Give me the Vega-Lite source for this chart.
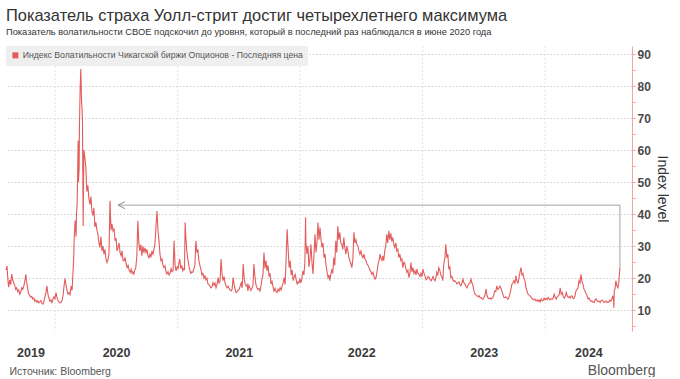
{
"$schema": "https://vega.github.io/schema/vega-lite/v6.json",
"width": 626, "height": 285,
"padding": {"left": 3, "top": 7, "right": 0, "bottom": 0},
"background": "white",
"title": {"text": "Показатель страха Уолл-стрит достиг четырехлетнего максимума", "subtitle": "Показатель волатильности CBOE подскочил до уровня, который в последний раз наблюдался в июне 2020 года", "anchor": "start", "frame": "group", "font": "Liberation Sans", "fontSize": 16.4, "fontWeight": "normal", "color": "#333333", "subtitleFont": "Liberation Sans", "subtitleFontSize": 9.3, "subtitleColor": "#333333", "subtitlePadding": 4, "offset": 8},
"datasets": {
"years": [{"d":"2020-01-01"},{"d":"2021-01-01"},{"d":"2022-01-01"},{"d":"2023-01-01"},{"d":"2024-01-01"}],
"ann": [{"d":"2020-07-07","v":42.8,"o":1},{"d":"2024-08-11","v":42.8,"o":2},{"d":"2024-08-11","v":23.3,"o":3}],
"tip": [{"d":"2020-07-07","v":42.8}],
"vix": [
{"d":"2019-08-08","v":22.5},{"d":"2019-08-11","v":23.8},{"d":"2019-08-14","v":19},{"d":"2019-08-16","v":17.2},{"d":"2019-08-19","v":19.5},{"d":"2019-08-22","v":18},{"d":"2019-08-25","v":21.3},{"d":"2019-08-28","v":19.5},{"d":"2019-08-31","v":18.5},{"d":"2019-09-03","v":17.8},{"d":"2019-09-06","v":16.5},{"d":"2019-09-09","v":17},{"d":"2019-09-12","v":15.8},{"d":"2019-09-15","v":16.3},{"d":"2019-09-18","v":15},{"d":"2019-09-21","v":15.6},{"d":"2019-09-24","v":17},{"d":"2019-09-27","v":16.5},{"d":"2019-09-30","v":17.5},{"d":"2019-10-03","v":19},{"d":"2019-10-06","v":21.2},{"d":"2019-10-09","v":18.5},{"d":"2019-10-12","v":16.5},{"d":"2019-10-15","v":15},{"d":"2019-10-18","v":14.6},{"d":"2019-10-21","v":14},{"d":"2019-10-24","v":14.3},{"d":"2019-10-27","v":13.5},{"d":"2019-10-30","v":13.8},{"d":"2019-11-02","v":12.8},{"d":"2019-11-05","v":13.2},{"d":"2019-11-08","v":12.5},{"d":"2019-11-11","v":12.9},{"d":"2019-11-14","v":12.3},{"d":"2019-11-17","v":12.6},{"d":"2019-11-20","v":13},{"d":"2019-11-23","v":12.2},{"d":"2019-11-26","v":11.9},{"d":"2019-11-29","v":12.6},{"d":"2019-12-02","v":14.2},{"d":"2019-12-05","v":15.5},{"d":"2019-12-08","v":17.6},{"d":"2019-12-11","v":15},{"d":"2019-12-14","v":13.8},{"d":"2019-12-17","v":12.8},{"d":"2019-12-20","v":13.2},{"d":"2019-12-23","v":12.4},{"d":"2019-12-26","v":13.4},{"d":"2019-12-29","v":14.2},
{"d":"2020-01-01","v":13.6},{"d":"2020-01-04","v":15.5},{"d":"2020-01-07","v":14},{"d":"2020-01-10","v":13},{"d":"2020-01-13","v":12.6},{"d":"2020-01-16","v":12.3},{"d":"2020-01-19","v":12.4},{"d":"2020-01-22","v":13},{"d":"2020-01-25","v":14.5},{"d":"2020-01-28","v":17.5},{"d":"2020-01-31","v":19.9},{"d":"2020-02-03","v":17.8},{"d":"2020-02-06","v":16},{"d":"2020-02-09","v":15},{"d":"2020-02-12","v":15.5},{"d":"2020-02-15","v":14.8},{"d":"2020-02-18","v":17.5},{"d":"2020-02-21","v":16.2},{"d":"2020-02-24","v":22.3},{"d":"2020-02-26","v":27},{"d":"2020-02-27","v":31.7},{"d":"2020-03-01","v":38},{"d":"2020-03-04","v":33},{"d":"2020-03-05","v":40},{"d":"2020-03-07","v":43},{"d":"2020-03-09","v":55},{"d":"2020-03-10","v":63},{"d":"2020-03-11","v":50},{"d":"2020-03-13","v":54.6},{"d":"2020-03-14","v":68},{"d":"2020-03-16","v":79},{"d":"2020-03-18","v":85.3},{"d":"2020-03-20","v":76},{"d":"2020-03-22","v":72},{"d":"2020-03-23","v":69},{"d":"2020-03-25","v":36.3},{"d":"2020-03-27","v":60},{"d":"2020-03-30","v":57.7},{"d":"2020-04-02","v":54.6},{"d":"2020-04-05","v":47},{"d":"2020-04-08","v":49},{"d":"2020-04-11","v":45},{"d":"2020-04-14","v":43},{"d":"2020-04-17","v":45.5},{"d":"2020-04-20","v":41},{"d":"2020-04-23","v":39.5},{"d":"2020-04-26","v":42},{"d":"2020-04-29","v":36},{"d":"2020-05-02","v":37.4},{"d":"2020-05-05","v":35},{"d":"2020-05-08","v":33.8},{"d":"2020-05-11","v":31},{"d":"2020-05-14","v":29.6},{"d":"2020-05-17","v":33},{"d":"2020-05-20","v":28.5},{"d":"2020-05-23","v":30},{"d":"2020-05-26","v":27.5},{"d":"2020-05-29","v":29},{"d":"2020-06-01","v":26},{"d":"2020-06-04","v":24.9},{"d":"2020-06-07","v":25.8},{"d":"2020-06-10","v":27.6},{"d":"2020-06-13","v":44.2},{"d":"2020-06-16","v":35},{"d":"2020-06-19","v":37},{"d":"2020-06-22","v":34.8},{"d":"2020-06-25","v":35.5},{"d":"2020-06-28","v":31.7},{"d":"2020-07-01","v":32.5},{"d":"2020-07-04","v":28.5},{"d":"2020-07-07","v":29.6},{"d":"2020-07-10","v":31},{"d":"2020-07-13","v":28},{"d":"2020-07-16","v":27},{"d":"2020-07-19","v":28.5},{"d":"2020-07-22","v":25.5},{"d":"2020-07-25","v":25.4},{"d":"2020-07-28","v":26.5},{"d":"2020-07-31","v":24.5},{"d":"2020-08-03","v":23.3},{"d":"2020-08-06","v":24},{"d":"2020-08-09","v":22.5},{"d":"2020-08-12","v":21.8},{"d":"2020-08-15","v":22.8},{"d":"2020-08-18","v":21.5},{"d":"2020-08-20","v":22},{"d":"2020-08-23","v":21.3},{"d":"2020-08-26","v":22.5},{"d":"2020-08-29","v":23.3},{"d":"2020-09-01","v":27},{"d":"2020-09-04","v":37.9},{"d":"2020-09-07","v":31},{"d":"2020-09-10","v":28.5},{"d":"2020-09-13","v":30.5},{"d":"2020-09-16","v":27},{"d":"2020-09-19","v":30},{"d":"2020-09-22","v":28},{"d":"2020-09-25","v":29.5},{"d":"2020-09-28","v":28},{"d":"2020-10-01","v":29},{"d":"2020-10-04","v":27},{"d":"2020-10-07","v":26.4},{"d":"2020-10-10","v":27.5},{"d":"2020-10-13","v":26.5},{"d":"2020-10-16","v":28.5},{"d":"2020-10-19","v":27.5},{"d":"2020-10-22","v":29},{"d":"2020-10-25","v":30.7},{"d":"2020-10-28","v":36},{"d":"2020-10-31","v":41},{"d":"2020-11-03","v":35},{"d":"2020-11-06","v":31.7},{"d":"2020-11-09","v":27.5},{"d":"2020-11-12","v":25.4},{"d":"2020-11-15","v":26},{"d":"2020-11-18","v":24},{"d":"2020-11-21","v":23.3},{"d":"2020-11-24","v":23.8},{"d":"2020-11-27","v":22},{"d":"2020-11-30","v":21.3},{"d":"2020-12-03","v":22},{"d":"2020-12-06","v":21},{"d":"2020-12-09","v":21.5},{"d":"2020-12-12","v":23},{"d":"2020-12-15","v":22},{"d":"2020-12-18","v":22.3},{"d":"2020-12-21","v":31.7},{"d":"2020-12-24","v":24},{"d":"2020-12-27","v":22.3},{"d":"2020-12-30","v":23.5},
{"d":"2021-01-02","v":23},{"d":"2021-01-04","v":24.4},{"d":"2021-01-07","v":26},{"d":"2021-01-10","v":23},{"d":"2021-01-13","v":24},{"d":"2021-01-16","v":22.3},{"d":"2021-01-19","v":23},{"d":"2021-01-21","v":22.5},{"d":"2021-01-23","v":37.4},{"d":"2021-01-25","v":33},{"d":"2021-01-28","v":28.5},{"d":"2021-01-31","v":26},{"d":"2021-02-03","v":24},{"d":"2021-02-06","v":22.5},{"d":"2021-02-09","v":21.5},{"d":"2021-02-12","v":22},{"d":"2021-02-15","v":21.8},{"d":"2021-02-18","v":23},{"d":"2021-02-21","v":24},{"d":"2021-02-24","v":31.7},{"d":"2021-02-27","v":28},{"d":"2021-03-02","v":29},{"d":"2021-03-05","v":25.4},{"d":"2021-03-08","v":24},{"d":"2021-03-11","v":22.8},{"d":"2021-03-14","v":21},{"d":"2021-03-17","v":21.5},{"d":"2021-03-20","v":20},{"d":"2021-03-23","v":20.7},{"d":"2021-03-26","v":19.5},{"d":"2021-03-29","v":20},{"d":"2021-04-01","v":18.2},{"d":"2021-04-04","v":18},{"d":"2021-04-07","v":17.5},{"d":"2021-04-10","v":17},{"d":"2021-04-13","v":17.3},{"d":"2021-04-16","v":18.6},{"d":"2021-04-19","v":17.8},{"d":"2021-04-22","v":18.5},{"d":"2021-04-25","v":17},{"d":"2021-04-28","v":18},{"d":"2021-05-01","v":20.2},{"d":"2021-05-04","v":18.5},{"d":"2021-05-07","v":19},{"d":"2021-05-10","v":26},{"d":"2021-05-13","v":21.5},{"d":"2021-05-16","v":19.2},{"d":"2021-05-19","v":20.5},{"d":"2021-05-22","v":18.5},{"d":"2021-05-25","v":17.5},{"d":"2021-05-28","v":17},{"d":"2021-05-31","v":17.5},{"d":"2021-06-03","v":16.8},{"d":"2021-06-06","v":16.3},{"d":"2021-06-09","v":16},{"d":"2021-06-12","v":16.5},{"d":"2021-06-15","v":20.2},{"d":"2021-06-18","v":18},{"d":"2021-06-21","v":16.5},{"d":"2021-06-24","v":15.5},{"d":"2021-06-27","v":15.8},{"d":"2021-06-30","v":16.2},{"d":"2021-07-03","v":16.5},{"d":"2021-07-06","v":17.5},{"d":"2021-07-09","v":18.5},{"d":"2021-07-12","v":17},{"d":"2021-07-15","v":24.4},{"d":"2021-07-18","v":20},{"d":"2021-07-21","v":18.2},{"d":"2021-07-24","v":17.5},{"d":"2021-07-27","v":18},{"d":"2021-07-29","v":16},{"d":"2021-08-01","v":17.8},{"d":"2021-08-04","v":17},{"d":"2021-08-07","v":16.2},{"d":"2021-08-10","v":16.8},{"d":"2021-08-13","v":17.5},{"d":"2021-08-16","v":24.4},{"d":"2021-08-19","v":20.5},{"d":"2021-08-22","v":18},{"d":"2021-08-25","v":17},{"d":"2021-08-28","v":16.5},{"d":"2021-08-31","v":16.8},{"d":"2021-09-03","v":16},{"d":"2021-09-06","v":17.5},{"d":"2021-09-09","v":19.5},{"d":"2021-09-12","v":21},{"d":"2021-09-15","v":28},{"d":"2021-09-18","v":23},{"d":"2021-09-21","v":25.5},{"d":"2021-09-24","v":22.3},{"d":"2021-09-27","v":24},{"d":"2021-09-30","v":20.5},{"d":"2021-10-03","v":21.5},{"d":"2021-10-06","v":18.2},{"d":"2021-10-09","v":19},{"d":"2021-10-12","v":17.3},{"d":"2021-10-15","v":16},{"d":"2021-10-18","v":16.8},{"d":"2021-10-21","v":15.8},{"d":"2021-10-24","v":15.5},{"d":"2021-10-27","v":16.5},{"d":"2021-10-30","v":16},{"d":"2021-11-02","v":17},{"d":"2021-11-05","v":16.3},{"d":"2021-11-08","v":17.5},{"d":"2021-11-11","v":18.5},{"d":"2021-11-14","v":20.2},{"d":"2021-11-17","v":18},{"d":"2021-11-20","v":26.4},{"d":"2021-11-23","v":35.3},{"d":"2021-11-26","v":29},{"d":"2021-11-29","v":23.3},{"d":"2021-12-02","v":25.5},{"d":"2021-12-05","v":21},{"d":"2021-12-08","v":22.5},{"d":"2021-12-11","v":19.2},{"d":"2021-12-14","v":20.5},{"d":"2021-12-17","v":21.2},{"d":"2021-12-20","v":19.5},{"d":"2021-12-23","v":18.2},{"d":"2021-12-25","v":18.8},{"d":"2021-12-28","v":18.5},{"d":"2021-12-31","v":19.7},
{"d":"2022-01-03","v":18.5},{"d":"2022-01-06","v":20},{"d":"2022-01-09","v":22.3},{"d":"2022-01-12","v":21},{"d":"2022-01-15","v":25},{"d":"2022-01-17","v":39},{"d":"2022-01-18","v":31},{"d":"2022-01-21","v":27.6},{"d":"2022-01-24","v":30},{"d":"2022-01-27","v":23.5},{"d":"2022-01-30","v":26},{"d":"2022-02-02","v":30.6},{"d":"2022-02-05","v":25},{"d":"2022-02-08","v":21.3},{"d":"2022-02-11","v":27},{"d":"2022-02-14","v":33.7},{"d":"2022-02-17","v":28},{"d":"2022-02-20","v":31},{"d":"2022-02-23","v":37.4},{"d":"2022-02-26","v":32},{"d":"2022-03-01","v":35.8},{"d":"2022-03-04","v":32},{"d":"2022-03-07","v":29.6},{"d":"2022-03-10","v":31},{"d":"2022-03-13","v":26.4},{"d":"2022-03-16","v":27.5},{"d":"2022-03-19","v":24},{"d":"2022-03-22","v":22},{"d":"2022-03-25","v":20.2},{"d":"2022-03-28","v":21},{"d":"2022-03-30","v":19.2},{"d":"2022-04-02","v":21},{"d":"2022-04-05","v":22.5},{"d":"2022-04-08","v":21.5},{"d":"2022-04-11","v":26.4},{"d":"2022-04-14","v":24},{"d":"2022-04-17","v":31.7},{"d":"2022-04-20","v":28},{"d":"2022-04-23","v":36.3},{"d":"2022-04-26","v":32},{"d":"2022-04-29","v":34.3},{"d":"2022-05-02","v":31},{"d":"2022-05-05","v":30.6},{"d":"2022-05-08","v":29},{"d":"2022-05-11","v":32.7},{"d":"2022-05-14","v":29.5},{"d":"2022-05-17","v":27.5},{"d":"2022-05-20","v":30},{"d":"2022-05-23","v":28.5},{"d":"2022-05-26","v":26.5},{"d":"2022-05-29","v":25.4},{"d":"2022-06-01","v":24.5},{"d":"2022-06-04","v":23.3},{"d":"2022-06-07","v":26},{"d":"2022-06-10","v":34.3},{"d":"2022-06-13","v":31},{"d":"2022-06-16","v":32},{"d":"2022-06-19","v":30.5},{"d":"2022-06-22","v":30},{"d":"2022-06-25","v":28.5},{"d":"2022-06-28","v":27.5},{"d":"2022-07-01","v":28.5},{"d":"2022-07-04","v":27},{"d":"2022-07-07","v":26.4},{"d":"2022-07-10","v":27.5},{"d":"2022-07-13","v":26},{"d":"2022-07-16","v":25.5},{"d":"2022-07-19","v":24.5},{"d":"2022-07-22","v":24},{"d":"2022-07-25","v":23.3},{"d":"2022-07-28","v":22.5},{"d":"2022-07-31","v":22},{"d":"2022-08-03","v":21.2},{"d":"2022-08-06","v":21.8},{"d":"2022-08-09","v":20.5},{"d":"2022-08-12","v":19.7},{"d":"2022-08-15","v":20.3},{"d":"2022-08-18","v":22},{"d":"2022-08-21","v":24.4},{"d":"2022-08-24","v":25.5},{"d":"2022-08-27","v":27.5},{"d":"2022-08-30","v":26},{"d":"2022-09-02","v":25.5},{"d":"2022-09-04","v":27},{"d":"2022-09-07","v":25.5},{"d":"2022-09-10","v":28.5},{"d":"2022-09-13","v":30},{"d":"2022-09-16","v":33.7},{"d":"2022-09-19","v":31},{"d":"2022-09-22","v":34.8},{"d":"2022-09-25","v":32},{"d":"2022-09-28","v":34},{"d":"2022-10-01","v":31.5},{"d":"2022-10-04","v":32.7},{"d":"2022-10-07","v":30.5},{"d":"2022-10-10","v":29.6},{"d":"2022-10-13","v":31},{"d":"2022-10-16","v":28.5},{"d":"2022-10-19","v":29},{"d":"2022-10-22","v":26.4},{"d":"2022-10-25","v":27.5},{"d":"2022-10-28","v":25.5},{"d":"2022-10-31","v":26},{"d":"2022-11-03","v":23.3},{"d":"2022-11-06","v":25},{"d":"2022-11-09","v":24.5},{"d":"2022-11-12","v":23},{"d":"2022-11-15","v":21.8},{"d":"2022-11-18","v":22.5},{"d":"2022-11-21","v":20.2},{"d":"2022-11-24","v":21.5},{"d":"2022-11-27","v":24.9},{"d":"2022-11-30","v":22},{"d":"2022-12-03","v":23.3},{"d":"2022-12-06","v":21.5},{"d":"2022-12-09","v":22.3},{"d":"2022-12-12","v":21},{"d":"2022-12-15","v":22.8},{"d":"2022-12-18","v":21.5},{"d":"2022-12-21","v":21.2},{"d":"2022-12-24","v":20.5},{"d":"2022-12-27","v":21.5},{"d":"2022-12-30","v":20.5},
{"d":"2023-01-02","v":22.8},{"d":"2023-01-05","v":21.5},{"d":"2023-01-08","v":20.7},{"d":"2023-01-11","v":19.5},{"d":"2023-01-14","v":19.8},{"d":"2023-01-17","v":20.5},{"d":"2023-01-20","v":20.3},{"d":"2023-01-23","v":19.5},{"d":"2023-01-26","v":19.2},{"d":"2023-01-29","v":19.8},{"d":"2023-02-01","v":20.5},{"d":"2023-02-04","v":19.5},{"d":"2023-02-07","v":19.2},{"d":"2023-02-10","v":20.5},{"d":"2023-02-12","v":21.8},{"d":"2023-02-15","v":21},{"d":"2023-02-18","v":23.3},{"d":"2023-02-21","v":22.5},{"d":"2023-02-24","v":21},{"d":"2023-02-27","v":20.5},{"d":"2023-03-02","v":19.2},{"d":"2023-03-05","v":24.4},{"d":"2023-03-08","v":26},{"d":"2023-03-11","v":30.6},{"d":"2023-03-14","v":26.4},{"d":"2023-03-17","v":27.5},{"d":"2023-03-20","v":22.8},{"d":"2023-03-23","v":23.5},{"d":"2023-03-26","v":20.2},{"d":"2023-03-29","v":20.5},{"d":"2023-04-01","v":19.5},{"d":"2023-04-04","v":19},{"d":"2023-04-07","v":19.2},{"d":"2023-04-10","v":18.8},{"d":"2023-04-13","v":18.2},{"d":"2023-04-16","v":18.5},{"d":"2023-04-19","v":18.8},{"d":"2023-04-22","v":18},{"d":"2023-04-25","v":17.6},{"d":"2023-04-28","v":18.5},{"d":"2023-05-01","v":19.7},{"d":"2023-05-04","v":18.5},{"d":"2023-05-07","v":18.2},{"d":"2023-05-10","v":17.5},{"d":"2023-05-13","v":17},{"d":"2023-05-16","v":17.8},{"d":"2023-05-19","v":18.2},{"d":"2023-05-22","v":18.5},{"d":"2023-05-25","v":19.7},{"d":"2023-05-28","v":18.5},{"d":"2023-05-31","v":17.6},{"d":"2023-06-03","v":16},{"d":"2023-06-06","v":15},{"d":"2023-06-09","v":14.8},{"d":"2023-06-12","v":14.5},{"d":"2023-06-15","v":14.2},{"d":"2023-06-18","v":14.5},{"d":"2023-06-21","v":13.9},{"d":"2023-06-24","v":14},{"d":"2023-06-27","v":13.6},{"d":"2023-06-30","v":13.4},{"d":"2023-07-03","v":14},{"d":"2023-07-06","v":14.8},{"d":"2023-07-09","v":16.6},{"d":"2023-07-12","v":14.5},{"d":"2023-07-15","v":13.8},{"d":"2023-07-18","v":13.6},{"d":"2023-07-21","v":13.8},{"d":"2023-07-24","v":13.4},{"d":"2023-07-26","v":13.8},{"d":"2023-07-29","v":13.8},{"d":"2023-08-01","v":14.8},{"d":"2023-08-04","v":16},{"d":"2023-08-07","v":15.8},{"d":"2023-08-10","v":17.6},{"d":"2023-08-13","v":16.5},{"d":"2023-08-16","v":16.8},{"d":"2023-08-19","v":17.5},{"d":"2023-08-22","v":17},{"d":"2023-08-25","v":16},{"d":"2023-08-28","v":15},{"d":"2023-08-31","v":14},{"d":"2023-09-03","v":13.9},{"d":"2023-09-06","v":14.2},{"d":"2023-09-09","v":13.8},{"d":"2023-09-12","v":13.4},{"d":"2023-09-15","v":14},{"d":"2023-09-18","v":15},{"d":"2023-09-21","v":16.5},{"d":"2023-09-24","v":18.1},{"d":"2023-09-27","v":18.5},{"d":"2023-09-30","v":19.2},{"d":"2023-10-03","v":18.5},{"d":"2023-10-06","v":20.7},{"d":"2023-10-09","v":19},{"d":"2023-10-12","v":18.5},{"d":"2023-10-15","v":20},{"d":"2023-10-18","v":21.8},{"d":"2023-10-21","v":23.3},{"d":"2023-10-24","v":21},{"d":"2023-10-27","v":21.5},{"d":"2023-10-30","v":20},{"d":"2023-11-02","v":19.2},{"d":"2023-11-05","v":17},{"d":"2023-11-08","v":16},{"d":"2023-11-11","v":15},{"d":"2023-11-14","v":14.8},{"d":"2023-11-17","v":14.5},{"d":"2023-11-20","v":14},{"d":"2023-11-23","v":13.6},{"d":"2023-11-26","v":13.4},{"d":"2023-11-29","v":13.2},{"d":"2023-12-02","v":13.4},{"d":"2023-12-05","v":12.9},{"d":"2023-12-08","v":13.2},{"d":"2023-12-11","v":12.7},{"d":"2023-12-14","v":13.2},{"d":"2023-12-17","v":12.6},{"d":"2023-12-20","v":13.5},{"d":"2023-12-23","v":12.9},{"d":"2023-12-26","v":13},{"d":"2023-12-29","v":13.8},
{"d":"2024-01-01","v":13.2},{"d":"2024-01-04","v":13.7},{"d":"2024-01-07","v":13.3},{"d":"2024-01-10","v":14},{"d":"2024-01-13","v":13.5},{"d":"2024-01-16","v":13.2},{"d":"2024-01-19","v":13.6},{"d":"2024-01-22","v":13.4},{"d":"2024-01-25","v":13.8},{"d":"2024-01-28","v":15},{"d":"2024-01-31","v":14},{"d":"2024-02-03","v":13.5},{"d":"2024-02-06","v":14.2},{"d":"2024-02-09","v":14.5},{"d":"2024-02-12","v":14.8},{"d":"2024-02-15","v":17},{"d":"2024-02-18","v":15},{"d":"2024-02-21","v":15.5},{"d":"2024-02-24","v":14.2},{"d":"2024-02-27","v":13.8},{"d":"2024-03-01","v":14.3},{"d":"2024-03-04","v":15.5},{"d":"2024-03-07","v":14.5},{"d":"2024-03-10","v":14},{"d":"2024-03-13","v":14.2},{"d":"2024-03-16","v":13.8},{"d":"2024-03-19","v":14.5},{"d":"2024-03-22","v":14.3},{"d":"2024-03-24","v":13.7},{"d":"2024-03-27","v":13.6},{"d":"2024-03-30","v":14.5},{"d":"2024-04-02","v":16},{"d":"2024-04-05","v":16.5},{"d":"2024-04-08","v":17},{"d":"2024-04-11","v":19.2},{"d":"2024-04-14","v":18.5},{"d":"2024-04-17","v":21.2},{"d":"2024-04-20","v":19},{"d":"2024-04-23","v":18},{"d":"2024-04-26","v":16.5},{"d":"2024-04-29","v":16},{"d":"2024-05-02","v":15.2},{"d":"2024-05-05","v":14.5},{"d":"2024-05-08","v":13.5},{"d":"2024-05-11","v":13.8},{"d":"2024-05-14","v":13.2},{"d":"2024-05-17","v":12.7},{"d":"2024-05-20","v":12.9},{"d":"2024-05-23","v":12.5},{"d":"2024-05-26","v":12.4},{"d":"2024-05-29","v":13.2},{"d":"2024-06-01","v":13.5},{"d":"2024-06-04","v":13},{"d":"2024-06-07","v":12.7},{"d":"2024-06-10","v":12.8},{"d":"2024-06-13","v":12.4},{"d":"2024-06-16","v":13},{"d":"2024-06-19","v":13.2},{"d":"2024-06-22","v":12.8},{"d":"2024-06-25","v":12.4},{"d":"2024-06-27","v":12.7},{"d":"2024-06-30","v":12.9},{"d":"2024-07-03","v":12.4},{"d":"2024-07-06","v":12.6},{"d":"2024-07-09","v":12.5},{"d":"2024-07-12","v":13.2},{"d":"2024-07-15","v":12.8},{"d":"2024-07-18","v":13.5},{"d":"2024-07-21","v":14.5},{"d":"2024-07-23","v":13},{"d":"2024-07-24","v":10.8},{"d":"2024-07-25","v":16},{"d":"2024-07-27","v":16.5},{"d":"2024-07-30","v":19.2},{"d":"2024-08-02","v":17.6},{"d":"2024-08-05","v":17},{"d":"2024-08-08","v":19},{"d":"2024-08-11","v":23.3}
]},
"layer": [
{"data": {"name": "years"}, "mark": {"type": "rule", "color": "#e2e2e2", "strokeWidth": 1, "strokeDash": [2, 2]},
 "encoding": {"x": {"field": "d", "type": "temporal", "scale": {"type": "utc", "domain": [{"year": 2019, "month": 8, "date": 8, "utc": true}, {"year": 2024, "month": 9, "date": 16, "utc": true}]},
  "axis": {"orient": "bottom", "title": "Bloomberg", "labels": false, "ticks": false, "domain": false, "grid": false, "titleFont": "Liberation Sans", "titleFontSize": 14, "titleFontWeight": "normal", "titleColor": "#555555", "titleX": 649, "titleY": 43, "titleAlign": "right", "titleBaseline": "alphabetic", "titleAngle": 0}}}},
{"data": {"name": "vix"}, "mark": {"type": "line", "strokeWidth": 1.1, "interpolate": "linear"},
 "encoding": {
  "x": {"field": "d", "type": "temporal", "scale": {"type": "utc", "domain": [{"year": 2019, "month": 8, "date": 8, "utc": true}, {"year": 2024, "month": 9, "date": 16, "utc": true}]},
   "axis": {"orient": "bottom", "grid": false, "ticks": false, "domain": false, "values": [{"year": 2019, "month": 10, "date": 20, "utc": true}, {"year": 2020, "month": 7, "date": 1, "utc": true}, {"year": 2021, "month": 7, "date": 2, "utc": true}, {"year": 2022, "month": 7, "date": 2, "utc": true}, {"year": 2023, "month": 7, "date": 2, "utc": true}, {"year": 2024, "month": 5, "date": 9, "utc": true}], "labelExpr": "utcFormat(datum.value, '%Y')", "labelFont": "Liberation Sans", "labelFontSize": 12.5, "labelFontWeight": "bold", "labelColor": "#3a3a3a", "labelPadding": 15, "labelFlush": false, "labelOverlap": false,
    "title": "Источник: Bloomberg", "titleFont": "Liberation Sans", "titleFontSize": 10.5, "titleFontWeight": "normal", "titleColor": "#555555", "titleX": 3, "titleY": 43, "titleAlign": "left", "titleBaseline": "alphabetic", "titleAngle": 0}},
  "y": {"field": "v", "type": "quantitative", "scale": {"domain": [3.5, 92.5], "nice": false, "zero": false},
   "axis": {"orient": "right", "title": "Index level", "values": [5, 10, 15, 20, 25, 30, 35, 40, 45, 50, 55, 60, 65, 70, 75, 80, 85, 90], "labelExpr": "datum.value % 10 == 0 ? datum.label : ''", "labelOverlap": false,
    "domainColor": "#f2a3a3", "domainWidth": 1, "tickColor": "#f2a3a3", "tickSize": 3,
    "grid": true, "gridColor": "#cfcfcf", "gridDash": [1.5, 2], "gridOpacity": {"condition": {"test": "datum.value % 10 != 0", "value": 0}, "value": 1},
    "labelFont": "Liberation Sans", "labelFontSize": 12, "labelFontWeight": "bold", "labelColor": "#4a4a4a", "labelPadding": 2,
    "titleFont": "Liberation Sans", "titleFontSize": 14, "titleFontWeight": "normal", "titleColor": "#333333", "titlePadding": 4}},
  "color": {"datum": "Индекс Волатильности Чикагской биржи Опционов - Последняя цена", "type": "nominal", "scale": {"range": ["#e35b5b"]},
   "legend": {"orient": "top-left", "offset": 0, "title": null, "fillColor": "#efefef", "padding": 5, "symbolType": "square", "symbolSize": 36, "symbolStrokeWidth": 0, "symbolFillColor": "#e35b5b", "labelFont": "Liberation Sans", "labelFontSize": 8.7, "labelColor": "#555555", "labelLimit": 500, "labelOffset": 3}}}},
{"data": {"name": "ann"}, "mark": {"type": "line", "color": "#a3a3a3", "strokeWidth": 1},
 "encoding": {
  "x": {"field": "d", "type": "temporal", "scale": {"type": "utc", "domain": [{"year": 2019, "month": 8, "date": 8, "utc": true}, {"year": 2024, "month": 9, "date": 16, "utc": true}]}, "axis": null},
  "y": {"field": "v", "type": "quantitative", "scale": {"domain": [3.5, 92.5], "nice": false, "zero": false},
   "axis": {"orient": "right", "title": "Index level", "values": [5, 10, 15, 20, 25, 30, 35, 40, 45, 50, 55, 60, 65, 70, 75, 80, 85, 90], "labelExpr": "datum.value % 10 == 0 ? datum.label : ''", "labelOverlap": false,
    "domainColor": "#f2a3a3", "domainWidth": 1, "tickColor": "#f2a3a3", "tickSize": 3,
    "grid": true, "gridColor": "#cfcfcf", "gridDash": [1.5, 2], "gridOpacity": {"condition": {"test": "datum.value % 10 != 0", "value": 0}, "value": 1},
    "labelFont": "Liberation Sans", "labelFontSize": 12, "labelFontWeight": "bold", "labelColor": "#4a4a4a", "labelPadding": 2,
    "titleFont": "Liberation Sans", "titleFontSize": 14, "titleFontWeight": "normal", "titleColor": "#333333", "titlePadding": 4}},
  "order": {"field": "o", "type": "quantitative"}}},
{"data": {"name": "tip"}, "mark": {"type": "point", "shape": "M0,0L2,-1M0,0L2,1", "filled": false, "stroke": "#8f8f8f", "strokeWidth": 1, "size": 49, "opacity": 1},
 "encoding": {
  "x": {"field": "d", "type": "temporal", "scale": {"type": "utc", "domain": [{"year": 2019, "month": 8, "date": 8, "utc": true}, {"year": 2024, "month": 9, "date": 16, "utc": true}]}, "axis": null},
  "y": {"field": "v", "type": "quantitative", "scale": {"domain": [3.5, 92.5], "nice": false, "zero": false},
   "axis": {"orient": "right", "title": "Index level", "values": [5, 10, 15, 20, 25, 30, 35, 40, 45, 50, 55, 60, 65, 70, 75, 80, 85, 90], "labelExpr": "datum.value % 10 == 0 ? datum.label : ''", "labelOverlap": false,
    "domainColor": "#f2a3a3", "domainWidth": 1, "tickColor": "#f2a3a3", "tickSize": 3,
    "grid": true, "gridColor": "#cfcfcf", "gridDash": [1.5, 2], "gridOpacity": {"condition": {"test": "datum.value % 10 != 0", "value": 0}, "value": 1},
    "labelFont": "Liberation Sans", "labelFontSize": 12, "labelFontWeight": "bold", "labelColor": "#4a4a4a", "labelPadding": 2,
    "titleFont": "Liberation Sans", "titleFontSize": 14, "titleFontWeight": "normal", "titleColor": "#333333", "titlePadding": 4}}}}
],
"resolve": {"axis": {"x": "independent"}},
"config": {"view": {"stroke": null}}
}
